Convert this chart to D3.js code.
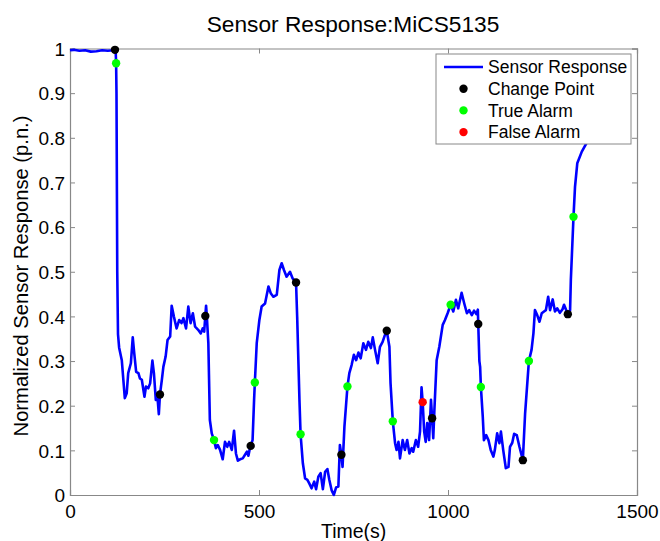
<!DOCTYPE html>
<html>
<head>
<meta charset="utf-8">
<script src="https://cdn.jsdelivr.net/npm/d3@7"></script>
<style>
  body { margin: 0; background: #fff; }
  svg { display: block; font-family: "Liberation Sans", Arial, sans-serif; }
</style>
</head>
<body>
<svg id="chart"></svg>
<script>
// sensor trace (time in s, normalized response)
const times = [0, 10, 25, 40, 55, 70, 85, 100, 115, 119, 121, 122, 123, 125, 127, 130, 137, 145, 150, 154, 161, 166, 170, 175, 181, 185, 190, 197, 201, 207, 212, 218, 222, 227, 231, 235, 238, 243, 247, 253, 258, 265, 269, 275, 282, 289, 295, 300, 307, 313, 319, 325, 331, 339, 346, 351, 355, 358, 360, 362, 366, 370, 375, 381, 386, 391, 397, 404, 410, 416, 421, 428, 434, 439, 444, 450, 457, 463, 468, 472, 476, 478, 483, 487, 489, 494, 501, 507, 516, 525, 531, 538, 547, 554, 560, 566, 573, 582, 589, 598, 601, 607, 610, 616, 622, 628, 633, 639, 646, 651, 657, 663, 669, 675, 681, 686, 692, 698, 704, 710, 714, 718, 721, 726, 734, 739, 745, 751, 757, 763, 769, 776, 783, 789, 796, 801, 807, 814, 820, 827, 833, 838, 845, 848, 854, 860, 864, 869, 873, 880, 886, 892, 898, 904, 908, 915, 921, 926, 930, 933, 937, 941, 945, 950, 955, 958, 961, 964, 970, 977, 986, 992, 999, 1007, 1014, 1021, 1027, 1036, 1043, 1050, 1056, 1063, 1069, 1075, 1079, 1080, 1083, 1085, 1087, 1092, 1095, 1101, 1107, 1113, 1120, 1124, 1130, 1136, 1140, 1146, 1153, 1160, 1164, 1170, 1175, 1182, 1189, 1198, 1204, 1214, 1221, 1226, 1230, 1236, 1242, 1248, 1254, 1259, 1265, 1270, 1277, 1283, 1289, 1296, 1303, 1307, 1317, 1323, 1325, 1332, 1336, 1342, 1354, 1365, 1380, 1400, 1420];
const response = [0.996, 0.997, 0.995, 0.996, 0.993, 0.994, 0.996, 0.995, 0.996, 0.997, 0.99, 0.967, 0.9, 0.5, 0.36, 0.33, 0.302, 0.217, 0.228, 0.273, 0.295, 0.353, 0.317, 0.276, 0.273, 0.261, 0.258, 0.22, 0.243, 0.239, 0.25, 0.301, 0.273, 0.213, 0.224, 0.181, 0.225, 0.258, 0.287, 0.31, 0.347, 0.355, 0.424, 0.399, 0.373, 0.392, 0.385, 0.396, 0.373, 0.422, 0.385, 0.407, 0.377, 0.37, 0.362, 0.373, 0.366, 0.401, 0.424, 0.4, 0.34, 0.168, 0.138, 0.123, 0.105, 0.112, 0.101, 0.08, 0.119, 0.108, 0.119, 0.101, 0.144, 0.093, 0.077, 0.08, 0.082, 0.09, 0.097, 0.088, 0.105, 0.11, 0.123, 0.213, 0.252, 0.34, 0.392, 0.422, 0.429, 0.467, 0.452, 0.444, 0.448, 0.504, 0.519, 0.504, 0.489, 0.5, 0.485, 0.476, 0.399, 0.213, 0.136, 0.071, 0.037, 0.034, 0.026, 0.015, 0.03, 0.013, 0.041, 0.049, 0.013, 0.052, 0.058, 0.034, 0.011, 0.0, 0.017, 0.019, 0.112, 0.09, 0.063, 0.153, 0.243, 0.273, 0.291, 0.314, 0.302, 0.319, 0.306, 0.34, 0.325, 0.343, 0.329, 0.353, 0.325, 0.295, 0.332, 0.343, 0.358, 0.368, 0.332, 0.25, 0.165, 0.116, 0.101, 0.119, 0.082, 0.123, 0.101, 0.123, 0.093, 0.105, 0.097, 0.123, 0.108, 0.142, 0.241, 0.208, 0.142, 0.119, 0.161, 0.123, 0.213, 0.172, 0.127, 0.19, 0.302, 0.332, 0.381, 0.392, 0.407, 0.426, 0.411, 0.437, 0.418, 0.453, 0.429, 0.407, 0.414, 0.403, 0.413, 0.405, 0.415, 0.383, 0.3, 0.287, 0.242, 0.175, 0.123, 0.134, 0.123, 0.101, 0.086, 0.101, 0.138, 0.116, 0.142, 0.101, 0.06, 0.063, 0.108, 0.117, 0.137, 0.134, 0.108, 0.078, 0.183, 0.3, 0.325, 0.362, 0.414, 0.403, 0.388, 0.407, 0.411, 0.414, 0.444, 0.414, 0.438, 0.411, 0.418, 0.408, 0.416, 0.426, 0.405, 0.414, 0.482, 0.623, 0.69, 0.743, 0.769, 0.786, 0.81, 0.83, 0.845];

// detected events
const changeTimes = [119, 238, 358, 478, 598, 718, 838, 958, 1080, 1198, 1317];
const changeValues = [0.997, 0.225, 0.401, 0.11, 0.476, 0.09, 0.368, 0.172, 0.383, 0.078, 0.405];
const trueTimes = [122, 381, 489, 610, 734, 854, 1007, 1087, 1214, 1332];
const trueValues = [0.967, 0.123, 0.252, 0.136, 0.243, 0.165, 0.426, 0.242, 0.3, 0.623];
const falseTimes = [933];
const falseValues = [0.208];

const xTicks = [0, 500, 1000, 1500];
const yTicks = [0, 0.1, 0.2, 0.3, 0.4, 0.5, 0.6, 0.7, 0.8, 0.9, 1];

const width = 660;
const height = 541;
const margin = { top: 48.5, right: 23, bottom: 46, left: 70 };
const axisColor = "#888";

const svg = d3.select("#chart")
  .attr("width", width)
  .attr("height", height);

const x = d3.scaleLinear().domain([0, 1500]).range([margin.left, width - margin.right]);
const y = d3.scaleLinear().domain([0, 1]).range([height - margin.bottom, margin.top]);

// axes box with inward ticks (matlab style)
const fmtY = d => (d === 0 || d === 1) ? String(d) : d.toFixed(1);

const bottomAxis = svg.append("g")
  .attr("transform", `translate(0,${y(0)})`)
  .call(d3.axisBottom(x).tickValues(xTicks).tickSize(-5).tickPadding(10).tickFormat(d3.format("d")));
const topAxis = svg.append("g")
  .attr("transform", `translate(0,${y(1)})`)
  .call(d3.axisTop(x).tickValues(xTicks).tickSize(-5).tickFormat(""));
const leftAxis = svg.append("g")
  .attr("transform", `translate(${x(0)},0)`)
  .call(d3.axisLeft(y).tickValues(yTicks).tickSize(-5).tickPadding(5).tickFormat(fmtY));
const rightAxis = svg.append("g")
  .attr("transform", `translate(${x(1500)},0)`)
  .call(d3.axisRight(y).tickValues(yTicks).tickSize(-5).tickFormat(""));

[bottomAxis, topAxis, leftAxis, rightAxis].forEach(g => {
  g.select(".domain").attr("stroke", axisColor).attr("stroke-width", 1.2);
  g.selectAll(".tick line").attr("stroke", axisColor);
  g.selectAll(".tick text")
    .attr("fill", "#000")
    .style("font-size", "19px")
    .style("font-family", "'Liberation Sans', Arial, sans-serif");
});
leftAxis.selectAll(".tick text").attr("dy", "0.36em");
bottomAxis.selectAll(".tick text").attr("dy", "0.71em");

// sensor line
const series = times.map((t, i) => ({ t, v: response[i] }));
const line = d3.line().x(d => x(d.t)).y(d => y(d.v));

svg.append("path")
  .datum(series)
  .attr("fill", "none")
  .attr("stroke", "#0000ff")
  .attr("stroke-width", 2.6)
  .attr("stroke-linejoin", "round")
  .attr("d", line);

// markers
function drawPoints(ts, vs, color) {
  svg.append("g")
    .selectAll("circle")
    .data(ts.map((t, i) => ({ t, v: vs[i] })))
    .join("circle")
    .attr("cx", d => x(d.t))
    .attr("cy", d => y(d.v))
    .attr("r", 4.2)
    .attr("fill", color);
}
drawPoints(changeTimes, changeValues, "#000000");
drawPoints(trueTimes, trueValues, "#00ff00");
drawPoints(falseTimes, falseValues, "#ff0000");

// title and labels
svg.append("text")
  .attr("x", 353)
  .attr("y", 31.5)
  .attr("text-anchor", "middle")
  .style("font-size", "22.7px")
  .text("Sensor Response:MiCS5135");

svg.append("text")
  .attr("x", 353.7)
  .attr("y", 538)
  .attr("text-anchor", "middle")
  .style("font-size", "19.5px")
  .text("Time(s)");

svg.append("text")
  .attr("transform", "translate(28,276) rotate(-90)")
  .attr("text-anchor", "middle")
  .style("font-size", "20.2px")
  .text("Normalized Sensor Response (p.n.)");

// legend
const legendItems = [
  { label: "Sensor Response", type: "line", color: "#0000ff" },
  { label: "Change Point", type: "dot", color: "#000000" },
  { label: "True Alarm", type: "dot", color: "#00ff00" },
  { label: "False Alarm", type: "dot", color: "#ff0000" }
];

const legend = svg.append("g").attr("transform", "translate(436,54)");
legend.append("rect")
  .attr("width", 195)
  .attr("height", 90)
  .attr("fill", "#fff")
  .attr("stroke", axisColor)
  .attr("stroke-width", 1);

const rows = legend.selectAll(".row")
  .data(legendItems)
  .join("g")
  .attr("class", "row")
  .attr("transform", (d, i) => `translate(0,${13 + i * 21.7})`);

rows.filter(d => d.type === "line").append("line")
  .attr("x1", 8).attr("x2", 47)
  .attr("stroke", d => d.color)
  .attr("stroke-width", 2.6);
rows.filter(d => d.type === "dot").append("circle")
  .attr("cx", 27.5)
  .attr("r", 4.2)
  .attr("fill", d => d.color);
rows.append("text")
  .attr("x", 52)
  .attr("dy", "0.35em")
  .style("font-size", "17.5px")
  .text(d => d.label);
</script>
</body>
</html>
